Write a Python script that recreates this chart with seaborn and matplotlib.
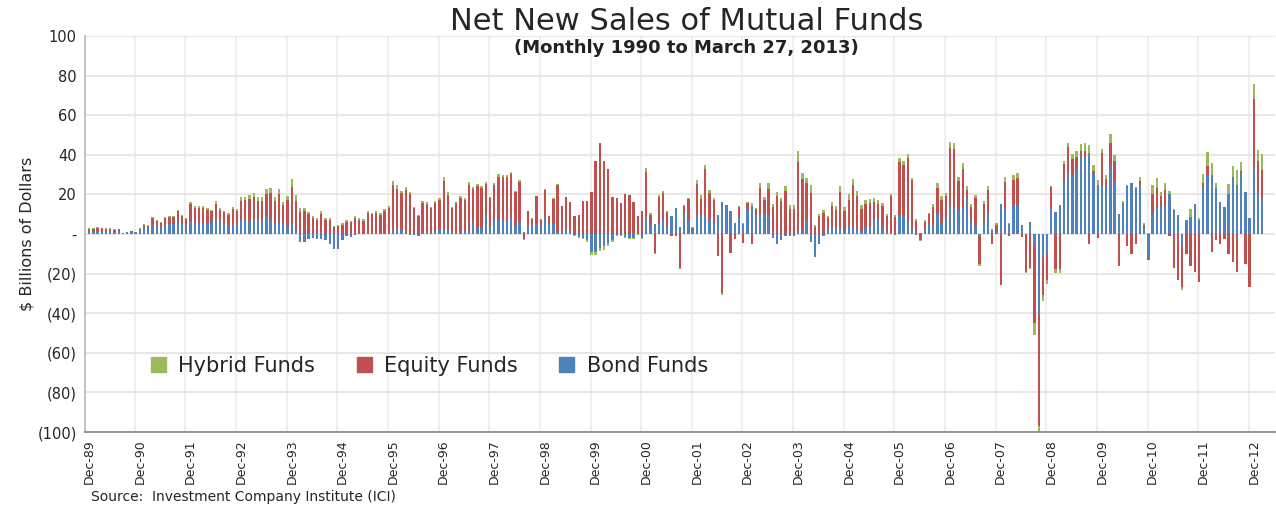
import matplotlib
matplotlib.use("Agg")
import matplotlib.pyplot as plt
from matplotlib.patches import Patch
from matplotlib.ticker import FuncFormatter, FixedLocator
import seaborn as sns
import pandas as pd
import numpy as np

# monthly net new sales, $ billions (Jan-1990 .. Mar-2013)
bond = [
    1.2, 1.1, 1.3, 1.2, 1.3, 1.2, 1.0, 1.5, 0.6, 0.8, 0.9, 0.8,
    2.0, 3.2, 3.0, 4.5, 4.0, 3.5, 4.5, 5.0, 5.0, 6.0, 5.0, 4.0,
    6.5, 6.0, 5.5, 5.5, 5.5, 6.0, 7.5, 6.5, 5.0, 4.5, 4.5, 5.5,
    7.0, 7.5, 6.5, 7.0, 7.0, 6.0, 9.0, 7.5, 5.5, 6.0, 5.0, 4.0,
    5.4, 2.0, -3.9, -4.0, -2.5, -2.0, -2.5, -2.5, -3.0, -5.0, -7.5, -7.5,
    -3.0, -1.0, -1.5, -0.5, 0.2, 0.2, 0.3, 0.3, 0.5, 0.5, 0.5, 0.5,
    2.5, 2.5, 2.5, 0.5, -0.5, -0.5, -0.8, 0.3, 1.0, 0.5, 1.0, 2.5,
    2.5, 2.5, 0.5, 0.5, 1.5, 1.5, 2.5, 6.0, 3.0, 3.5, 8.0, 3.0,
    7.5, 7.0, 7.0, 6.0, 8.5, 4.0, 6.0, 1.0, 4.0, 4.5, 5.0, 4.0,
    8.0, 5.0, 5.0, 1.0, 1.5, 2.0, 1.5, -0.5, -1.5, -2.0, -3.0, -9.0,
    -9.0, -7.0, -6.0, -4.5, -3.0, -0.5, -0.5, -1.5, -2.0, -2.0, 0.0, -2.0,
    8.5, 4.0, 5.0, 5.0, 7.0, 3.0, 9.1, 13.0, 3.7, 10.0, 7.0, 2.0,
    9.6, 9.6, 9.6, 7.5, 5.0, 9.6, 16.3, 14.6, 11.8, 5.4, 8.0, 5.0,
    12.0, 14.0, 9.6, 9.6, 10.0, 9.6, -2.0, -5.0, -3.0, -1.0, -1.0, -1.0,
    1.0, 2.0, 7.5, -4.0, -11.5, -5.0, -1.0, 3.0, 3.0, 3.0, 2.0, 2.0,
    4.0, 3.0, 3.0, 1.5, 3.0, 3.0, 7.0, 7.0, 4.0, 1.0, 0.5, -0.5,
    9.0, 9.5, 6.0, 2.0, -0.5, 0.5, 2.5, 5.0, 4.0, 10.0, 5.0, 8.5,
    14.0, 13.0, 12.0, 13.0, 18.0, 7.0, 4.0, -1.0, 6.5, 10.0, 2.0, 1.0,
    15.0, 12.5, 5.0, 14.6, 14.6, 4.5, 0.0, 6.2, -6.0, -40.0, -12.0, -10.0,
    13.0, 11.0, 14.6, 27.0, 31.0, 30.0, 33.0, 40.0, 39.0, 41.0, 31.0, 25.0,
    24.0, 25.0, 35.0, 27.0, 9.9, 15.0, 24.0, 25.6, 23.0, 25.0, 3.0, -12.0,
    10.0, 13.0, 14.0, 14.0, 20.0, 12.0, 9.6, -6.0, 7.0, 8.5, 15.0, 7.0,
    23.0, 30.0, 30.0, 23.0, 16.0, 13.5, 20.0, 29.0, 25.0, 31.0, 21.0, 8.0,
    34.0, 20.0, 17.0,
]
equity = [
    1.4, 1.5, 1.7, 1.6, 1.3, 1.4, 1.2, 0.8, 0.1, 0.2, 0.5, 0.2,
    0.7, 1.5, 1.2, 3.5, 2.7, 2.2, 3.5, 3.6, 3.5, 5.4, 4.1, 3.5,
    8.8, 7.3, 7.8, 7.8, 6.8, 5.4, 7.7, 5.5, 6.0, 5.2, 8.3, 6.3,
    9.5, 9.5, 11.2, 11.9, 9.5, 10.5, 11.1, 13.0, 11.4, 14.1, 9.8, 13.2,
    18.2, 14.7, 11.0, 11.5, 10.0, 8.0, 7.2, 10.3, 7.2, 7.0, 3.5, 4.0,
    4.8, 6.2, 6.0, 8.2, 7.0, 6.5, 10.3, 9.6, 10.3, 9.0, 10.9, 12.4,
    22.4, 20.2, 18.0, 21.6, 20.2, 13.0, 9.0, 15.5, 14.3, 12.5, 14.7, 14.5,
    24.5, 17.4, 12.5, 15.0, 16.5, 15.5, 22.4, 16.9, 21.0, 19.5, 17.2, 15.0,
    17.4, 22.0, 21.7, 22.8, 21.8, 17.0, 20.3, -2.5, 7.5, 3.2, 14.0, 3.2,
    14.2, 4.0, 12.8, 24.0, 12.5, 16.7, 14.6, 9.0, 9.6, 16.5, 16.7, 21.0,
    36.9, 46.1, 36.9, 32.7, 18.9, 18.4, 15.5, 20.0, 19.7, 16.0, 9.1, 11.8,
    22.7, 5.4, -9.6, 13.7, 13.9, 8.3, -1.0, -1.0, -17.4, 4.1, 10.9, 1.2,
    15.7, 8.3, 23.2, 13.2, 12.2, -11.0, -30.0, 0.0, -9.6, -2.5, 5.5, -4.5,
    3.5, -5.0, 2.9, 13.5, 7.4, 13.3, 13.6, 19.4, 16.5, 21.7, 12.6, 12.6,
    35.5, 26.0, 18.1, 20.7, 3.5, 8.9, 10.6, 5.1, 11.0, 9.1, 19.4, 9.5,
    13.2, 21.6, 16.4, 11.1, 12.2, 12.5, 9.4, 8.2, 10.0, 7.9, 18.7, 8.6,
    27.2, 25.4, 32.4, 25.1, 6.4, -3.0, 3.5, 5.0, 9.6, 13.4, 12.2, 10.9,
    29.6, 29.8, 14.6, 19.7, 4.2, 6.6, 14.2, -14.3, 8.8, 12.2, -5.0, 3.5,
    -26.0, 13.6, -1.0, 12.7, 13.5, -1.5, -19.4, -17.0, -39.0, -57.0, -19.0, -13.0,
    10.5, -17.5, -17.5, 8.5, 13.0, 8.0, 6.0, 2.0, 3.0, -5.0, 1.0, -2.0,
    17.0, 3.0, 11.0, 10.0, -16.0, 0.5, -6.0, -10.0, -5.0, 2.0, 1.4, -1.0,
    10.0, 10.0, 5.0, 8.0, -1.0, -17.0, -23.0, -21.0, -10.0, -16.0, -19.0, -24.0,
    2.8, 4.6, -9.0, -3.0, -5.0, -2.5, -10.0, -14.0, -19.0, 1.0, -15.0, -27.0,
    34.0, 17.0, 15.4,
]
hybrid = [
    0.3, 0.3, 0.4, 0.4, 0.3, 0.3, 0.2, 0.2, 0.0, 0.0, 0.1, 0.0,
    0.2, 0.3, 0.3, 0.4, 0.3, 0.3, 0.4, 0.4, 0.5, 0.6, 0.5, 0.4,
    1.0, 0.8, 0.8, 1.0, 0.8, 0.7, 1.5, 1.0, 0.8, 0.7, 1.0, 0.8,
    2.0, 1.5, 2.0, 2.0, 2.0, 2.0, 2.5, 2.5, 2.0, 2.5, 1.5, 2.0,
    4.0, 3.0, 2.0, 1.5, 1.3, 1.1, 1.0, 1.5, 1.0, 0.9, 0.5, 0.5,
    0.6, 0.8, 0.7, 0.9, 0.7, 0.7, 1.0, 0.9, 1.0, 0.9, 1.1, 1.2,
    2.0, 2.0, 1.4, 1.5, 1.2, 0.8, 0.6, 1.0, 1.0, 0.8, 1.0, 1.0,
    2.0, 1.5, 0.8, 0.8, 1.2, 1.0, 1.5, 1.0, 1.3, 1.2, 1.2, 0.9,
    1.0, 1.1, 1.1, 1.0, 1.2, 0.7, 1.0, -0.3, 0.3, 0.2, 0.4, 0.2,
    0.4, 0.1, 0.2, 0.1, 0.1, 0.2, 0.2, -0.5, -0.5, -0.5, -1.0, -1.5,
    -1.5, -1.5, -2.0, -1.5, -1.0, -0.5, -0.3, -0.5, -0.5, -0.5, -0.3, -0.3,
    2.0, 1.0, -0.3, 1.0, 1.0, 0.5, 0.0, 0.0, -0.3, 0.5, 0.5, 0.2,
    2.0, 2.0, 2.0, 1.5, 0.8, -0.2, -1.0, 0.0, -0.2, 0.0, 0.8, 0.8,
    0.8, 1.5, 0.5, 2.5, 1.5, 3.0, 1.5, 2.0, 1.5, 2.5, 2.0, 2.0,
    5.5, 2.6, 2.5, 4.0, 1.0, 1.0, 1.5, 1.0, 2.0, 2.0, 3.0, 2.0,
    3.0, 3.0, 2.5, 2.0, 2.0, 2.0, 2.0, 2.0, 1.8, 1.0, 1.0, 1.0,
    2.0, 2.0, 2.0, 1.0, 1.0, -0.3, 1.0, 0.8, 1.5, 2.5, 2.0, 1.5,
    3.0, 3.0, 2.0, 3.0, 2.0, 1.5, 1.5, -1.0, 1.5, 2.0, 0.4, 1.2,
    0.1, 2.5, 0.4, 2.5, 2.5, 0.0, -0.5, -0.5, -6.0, -3.0, -3.0, -2.0,
    0.5, -2.0, -2.0, 1.5, 2.1, 2.4, 3.0, 3.5, 3.8, 4.0, 2.8, 2.3,
    1.9, 1.8, 4.5, 2.9, 0.0, 1.2, 0.7, 0.0, 0.6, 2.0, 1.0, 0.3,
    4.7, 5.4, 2.0, 3.9, 1.7, 0.6, 0.0, -1.5, 0.0, 4.0, 0.0, 1.2,
    4.5, 7.0, 6.0, 2.6, 0.3, 0.0, 5.3, 5.3, 7.3, 4.2, 0.0, 0.0,
    8.0, 5.4, 8.0,
]

months = pd.date_range("1990-01-01", periods=len(bond), freq="MS").strftime("%b-%y").tolist()
tick_labels = ["Dec-%02d" % (y % 100) for y in range(1989, 2013)]

BLUE, RED, GREEN = "#4F81BD", "#C0504D", "#9BBB59"

df = pd.DataFrame({"month": months, "bond": bond, "equity": equity, "hybrid": hybrid})
# stacked tops (positive parts up, negative parts down)
pos = df[["bond", "equity", "hybrid"]].clip(lower=0).cumsum(axis=1)
neg = df[["bond", "equity", "hybrid"]].clip(upper=0).cumsum(axis=1)

sns.set_theme(style="white")
plt.rcParams["font.family"] = ["DejaVu Sans"]

fig = plt.figure(figsize=(12.76, 5.08), dpi=100)
ax = fig.add_axes([0.0666, 0.1496, 0.9326, 0.7795])

# draw the tallest layer first so the lower segments sit on top of it
for col, color in [("hybrid", GREEN), ("equity", RED), ("bond", BLUE)]:
    for part in (pos, neg):
        sns.barplot(x=df["month"], y=part[col], color=color, saturation=1,
                    width=0.55, linewidth=0, errorbar=None, ax=ax)

ax.set_ylim(-100, 100)
ax.set_xlim(-1, 281)
ax.set_yticks(np.arange(-100, 101, 20))
ax.yaxis.set_major_formatter(FuncFormatter(
    lambda v, p: "-" if v == 0 else (f"({-v:.0f})" if v < 0 else f"{v:.0f}")))
ax.set_xticks(np.arange(0, len(bond), 12))
ax.set_xticklabels(tick_labels, rotation=90, fontsize=9)
ax.tick_params(axis="y", labelsize=10.5, length=0, pad=6)
ax.tick_params(axis="x", length=3, color="#888888", pad=2)
ax.set_xlabel("")
ax.set_ylabel("$ Billions of Dollars", fontsize=11.5, labelpad=2)

ax.grid(axis="y", color="#e3e3e3", linewidth=1.2)
ax.xaxis.set_minor_locator(FixedLocator(np.arange(-1.2, len(bond), 12)))
ax.grid(axis="x", which="minor", color="#ececec", linewidth=1.2)
ax.set_axisbelow(True)
for s in ["top", "right"]:
    ax.spines[s].set_visible(False)
ax.spines["left"].set_color("#bbbbbb")
ax.spines["bottom"].set_color("#888888")

handles = [Patch(color=GREEN), Patch(color=RED), Patch(color=BLUE)]
ax.legend(handles, ["Hybrid Funds", "Equity Funds", "Bond Funds"], ncol=3,
          loc="center left", bbox_to_anchor=(0.04, 0.167), frameon=False,
          fontsize=15, handlelength=0.7, handleheight=0.7, handletextpad=0.6,
          columnspacing=2.0)

fig.text(0.538, 0.958, "Net New Sales of Mutual Funds", ha="center", va="center", fontsize=22)
fig.text(0.538, 0.905, "(Monthly 1990 to March 27, 2013)", ha="center", va="center",
         fontsize=13, fontweight="bold", color="#222222")
fig.text(0.071, 0.022, "Source:  Investment Company Institute (ICI)", ha="left",
         va="center", fontsize=10)

fig.savefig("out.png", dpi=100)
